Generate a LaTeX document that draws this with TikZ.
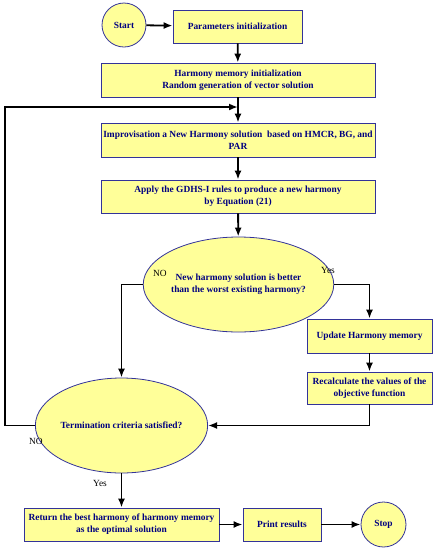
\documentclass[tikz,border=0pt]{standalone}
\usepackage{fontspec}
\setmainfont{Liberation Serif}
\usetikzlibrary{shapes.geometric,arrows.meta}
\definecolor{paleyellow}{RGB}{255,255,153}
\definecolor{boxblue}{RGB}{51,51,153}
\definecolor{textnavy}{RGB}{0,0,128}

\begin{document}
\begin{tikzpicture}[x=1pt,y=-1pt,
		box/.style={draw=boxblue,line width=0.8pt,fill=paleyellow,rectangle,inner sep=0pt,align=center,text=textnavy,font=\fontsize{9.4}{12}\selectfont\bfseries},
		roundbox/.style={box,circle,minimum size=44pt},
		decision/.style={box,ellipse,minimum width=143pt,minimum height=95pt},
		flow/.style={line width=1.8pt,-{Latex[length=9pt,width=7pt]}},
		answer/.style={font=\fontsize{9.4}{12}\selectfont}]
			\useasboundingbox (0,0) rectangle (436,550);
			\coordinate (join) at (238,107);
			\coordinate (loopleft) at (5,107);
			
			\node[roundbox] (start) at (124,25) {Start};
			\node[box,minimum width=129pt,minimum height=33pt] (params) at (237.5,26.5) {Parameters initialization};
			\node[box,minimum width=274pt,minimum height=34pt] (memory) at (238,80) {Harmony memory initialization\\Random generation of vector solution};
			\node[box,minimum width=274pt,minimum height=34pt] (improv) at (238,140) {Improvisation a New Harmony solution\ \ based on HMCR, BG, and\\PAR};
			\node[box,minimum width=274pt,minimum height=33pt] (apply) at (238,196.5) {Apply the GDHS-I rules to produce a new harmony\\by Equation (21)};
			\node[decision] (better) at (238.5,284.5) {New harmony solution is better\\than the worst existing harmony?};
			\node[box,minimum width=125pt,minimum height=34pt] (update) at (369.5,336) {Update Harmony memory};
			\node[box,minimum width=125pt,minimum height=32pt] (recalc) at (369.5,388) {Recalculate the values of the\\objective function};
			\node[decision] (term) at (121.5,425.5) {Termination criteria satisfied?};
			\node[box,minimum width=195pt,minimum height=33pt] (best) at (121.5,524.5) {Return the best harmony of harmony memory\\as the optimal solution};
			\node[box,minimum width=78pt,minimum height=33pt] (print) at (282,524.5) {Print results};
			\node[roundbox,minimum size=45pt] (stop) at (383.5,524.5) {Stop};
			
			\node[answer] (noone) at (160,273) {NO};
			\node[answer] (yesone) at (328,270) {Yes};
			\node[answer] (notwo) at (36,441) {NO};
			\node[answer] (yestwo) at (100,483) {Yes};
			
			\draw[flow] (start) -- (params);
			\draw[flow] (params) -- (memory);
			\draw[flow] (memory) -- (improv);
			\draw[flow] (improv) -- (apply);
			\draw[flow] (apply) -- (better);
			\draw[flow] (better.west) -| (term.north);
			\draw[flow] (better.east) -| (update.north);
			\draw[flow] (update) -- (recalc);
			\draw[flow] (recalc.south) |- (term.east);
			\draw[flow] (term.west) -| (loopleft) -- (join);
			\draw[flow] (term) -- (best);
			\draw[flow] (best) -- (print);
			\draw[flow] (print) -- (stop);
		\end{tikzpicture}
\end{document}
